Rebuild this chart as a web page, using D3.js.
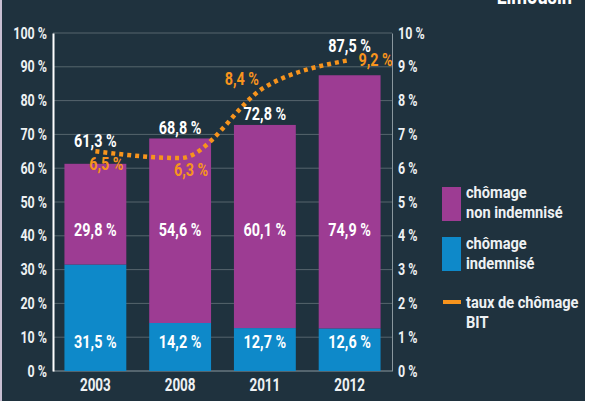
<!DOCTYPE html>
<html>
<head>
<meta charset="utf-8">
<script src="https://cdn.jsdelivr.net/npm/d3@7"></script>
<style>
  body { margin: 0; background: #1f323e; }
  svg text { font-family: Roboto, "Liberation Sans", sans-serif; font-weight: bold; }
</style>
</head>
<body>
<div id="chart"></div>
<script>
// ---------- data ----------
var years = ["2003", "2008", "2011", "2012"];
var indemnise = [31.5, 14.2, 12.7, 12.6];
var nonIndemnise = [29.8, 54.6, 60.1, 74.9];
var totals = [61.3, 68.8, 72.8, 87.5];
var tauxBIT = [6.5, 6.3, 8.4, 9.2];
var leftTicks = [0, 10, 20, 30, 40, 50, 60, 70, 80, 90, 100];
var rightTicks = [0, 1, 2, 3, 4, 5, 6, 7, 8, 9, 10];

var W = 590, H = 401;
var margin = {left: 53, right: 198, top: 33, bottom: 30};
var fmt = function(v) { return String(v).replace(".", ",") + " %"; };

// no condensed font installed: squeeze text horizontally around its anchor point
function condense(sel, sx) {
  sel.each(function() {
    var t = d3.select(this);
    var tx = +t.attr("x") || 0, ty = +t.attr("y") || 0;
    t.attr("x", 0).attr("y", 0)
     .attr("transform", "translate(" + tx + "," + ty + ") scale(" + sx + ",1)");
  });
}

var svg = d3.select("#chart").append("svg")
    .attr("width", W).attr("height", H)
    .style("display", "block");

svg.append("rect").attr("width", W).attr("height", H).attr("fill", "#1f323e");
// page edges
svg.append("rect").attr("x", 0).attr("y", 0).attr("width", 2).attr("height", H).attr("fill", "#c8bfd2");
svg.append("rect").attr("x", 585).attr("y", 0).attr("width", 5).attr("height", H).attr("fill", "#ffffff");

var x = d3.scaleBand()
    .domain(years)
    .range([margin.left, W - margin.right])
    .paddingInner(0.27).paddingOuter(0.135);

var yL = d3.scaleLinear().domain([0, 100]).range([H - margin.bottom, margin.top]);
var yR = d3.scaleLinear().domain([0, 10]).range([H - margin.bottom, margin.top]);

// ---------- grid ----------
svg.selectAll(".grid").data(leftTicks).enter().append("line")
    .attr("class", "grid")
    .attr("x1", margin.left).attr("x2", W - margin.right)
    .attr("y1", function(d) { return yL(d); }).attr("y2", function(d) { return yL(d); })
    .attr("stroke", function(d) { return d === 0 ? "#8a979e" : "#56656d"; })
    .attr("stroke-width", 1);

// ---------- bars ----------
var data = years.map(function(y, i) {
  return {year: y, ind: indemnise[i], non: nonIndemnise[i], tot: totals[i], bit: tauxBIT[i]};
});

svg.selectAll(".bar-ind").data(data).enter().append("rect")
    .attr("x", function(d) { return x(d.year); })
    .attr("width", x.bandwidth())
    .attr("y", function(d) { return yL(d.ind); })
    .attr("height", function(d) { return yL(0) - yL(d.ind); })
    .attr("fill", "#0e89c9");

svg.selectAll(".bar-non").data(data).enter().append("rect")
    .attr("x", function(d) { return x(d.year); })
    .attr("width", x.bandwidth())
    .attr("y", function(d) { return yL(d.ind + d.non); })
    .attr("height", function(d) { return yL(d.ind) - yL(d.ind + d.non); })
    .attr("fill", "#9d3c93");

// ---------- axes ----------
var leftAxis = d3.axisLeft(yL).tickValues(leftTicks).tickSize(0).tickPadding(6)
    .tickFormat(function(d) { return d + " %"; });
var gL = svg.append("g").attr("transform", "translate(" + margin.left + ",0)").call(leftAxis);
gL.select(".domain").attr("stroke", "#ffffff").attr("stroke-width", 2);

var rightAxis = d3.axisRight(yR).tickValues(rightTicks).tickSize(0).tickPadding(6)
    .tickFormat(function(d) { return d + " %"; });
var gR = svg.append("g").attr("transform", "translate(" + (W - margin.right) + ",0)").call(rightAxis);
gR.select(".domain").attr("stroke", "#8a979e").attr("stroke-width", 1);

var bottomAxis = d3.axisBottom(x).tickSize(0).tickPadding(6);
var gB = svg.append("g").attr("transform", "translate(0," + yL(0) + ")").call(bottomAxis);
gB.select(".domain").remove();

svg.selectAll(".tick text")
    .attr("fill", "#eef1f3")
    .style("font-size", "16px");
gB.selectAll(".tick text").style("font-size", "18px").attr("dy", "0.75em");
condense(gL.selectAll(".tick text"), 0.78);
condense(gR.selectAll(".tick text"), 0.78);
condense(gB.selectAll(".tick text"), 0.75);

// ---------- BIT line ----------
var line = d3.line()
    .x(function(d) { return x(d.year) + x.bandwidth() / 2; })
    .y(function(d) { return yR(d.bit); })
    .curve(d3.curveMonotoneX);

svg.append("path").datum(data)
    .attr("d", line)
    .attr("fill", "none")
    .attr("stroke", "#f7941d")
    .attr("stroke-width", 4.5)
    .attr("stroke-dasharray", "4,4");

// ---------- labels ----------
var cx = function(d) { return x(d.year) + x.bandwidth() / 2; };

svg.selectAll(".lab-ind").data(data).enter().append("text")
    .attr("class", "lab")
    .attr("x", cx).attr("y", yL(8.7))
    .attr("dy", "0.35em").attr("text-anchor", "middle")
    .attr("fill", "#ffffff")
    .text(function(d) { return fmt(d.ind); });

svg.selectAll(".lab-non").data(data).enter().append("text")
    .attr("class", "lab")
    .attr("x", cx).attr("y", yL(41.7))
    .attr("dy", "0.35em").attr("text-anchor", "middle")
    .attr("fill", "#ffffff")
    .text(function(d) { return fmt(d.non); });

// totals sit above the bars, by a gap given in % units
var totGap = [6.8, 3.1, 3.3, 8.8];
svg.selectAll(".lab-tot").data(data).enter().append("text")
    .attr("class", "lab")
    .attr("x", cx)
    .attr("y", function(d, i) { return yL(d.tot + totGap[i]); })
    .attr("dy", "0.35em").attr("text-anchor", "middle")
    .attr("fill", "#ffffff")
    .text(function(d) { return fmt(d.tot); });

var bitDx = [11, 11, -23, 26];
var bitDy = [-0.38, -0.33, 0.25, 0.0];
svg.selectAll(".lab-bit").data(data).enter().append("text")
    .attr("class", "lab")
    .attr("x", function(d, i) { return cx(d) + bitDx[i]; })
    .attr("y", function(d, i) { return yR(d.bit + bitDy[i]); })
    .attr("dy", "0.35em").attr("text-anchor", "middle")
    .attr("fill", "#f7941d")
    .text(function(d) { return fmt(d.bit); });

svg.selectAll(".lab").style("font-size", "18px");
condense(svg.selectAll(".lab"), 0.8);

// ---------- legend ----------
var lg = svg.append("g").attr("transform", "translate(442,0)");
lg.append("rect").attr("x", 0).attr("y", 187).attr("width", 19).attr("height", 34).attr("fill", "#9d3c93");
lg.append("rect").attr("x", 0).attr("y", 237).attr("width", 19).attr("height", 34).attr("fill", "#0e89c9");
lg.append("rect").attr("x", 1).attr("y", 300).attr("width", 18).attr("height", 4).attr("fill", "#f7941d");

var legendText = [
  ["chômage", 198], ["non indemnisé", 218],
  ["chômage", 249], ["indemnisé", 269],
  ["taux de chômage", 308], ["BIT", 328]
];
lg.selectAll(".lt").data(legendText).enter().append("text")
    .attr("class", "lt")
    .attr("x", 24).attr("y", function(d) { return d[1]; })
    .attr("fill", "#eef1f3").style("font-size", "17px")
    .text(function(d) { return d[0]; });
condense(lg.selectAll(".lt"), 0.86);

// ---------- title (cut at the top) ----------
var title = svg.append("text").attr("x", 572).attr("y", 4).attr("text-anchor", "end")
    .attr("fill", "#ffffff").style("font-size", "24px")
    .text("Limousin");
condense(title, 0.76);
</script>
</body>
</html>
